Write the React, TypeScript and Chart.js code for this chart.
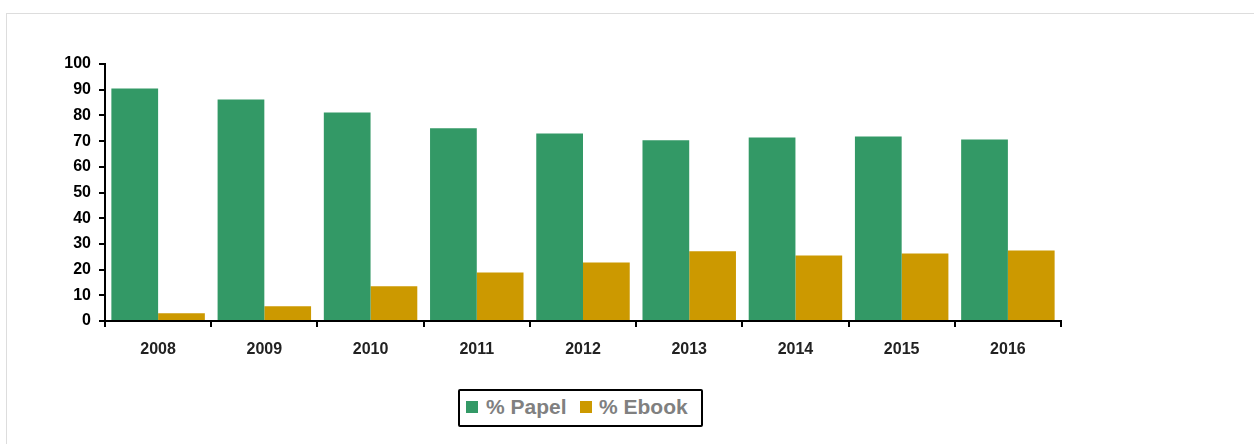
import React, { useEffect, useRef } from "react";
import { Chart, registerables } from "chart.js";

Chart.register(...registerables);

const categories = ["2008", "2009", "2010", "2011", "2012", "2013", "2014", "2015", "2016"];
const papelValues = [90.5, 86.2, 81.1, 75.0, 73.0, 70.3, 71.4, 71.8, 70.6];
const ebookValues = [3.0, 5.7, 13.5, 18.9, 22.8, 27.1, 25.5, 26.3, 27.4];
const seriesLabels = ["% Papel", "% Ebook"];
const seriesColors = ["#339966", "#CC9900"];
const yTicks = [0, 10, 20, 30, 40, 50, 60, 70, 80, 90, 100];

const FONT = "'Liberation Sans', Arial, Helvetica, sans-serif";

export default function App() {
  const canvasRef = useRef<HTMLCanvasElement | null>(null);

  useEffect(() => {
    const canvas = canvasRef.current;
    if (!canvas) return;
    const chart = new Chart(canvas, {
      type: "bar",
      data: {
        labels: categories,
        datasets: [
          {
            label: seriesLabels[0],
            data: papelValues,
            backgroundColor: seriesColors[0],
            borderWidth: 0,
            categoryPercentage: 0.88,
            barPercentage: 1.0,
          },
          {
            label: seriesLabels[1],
            data: ebookValues,
            backgroundColor: seriesColors[1],
            borderWidth: 0,
            categoryPercentage: 0.88,
            barPercentage: 1.0,
          },
        ],
      },
      options: {
        responsive: false,
        animation: false,
        devicePixelRatio: 1,
        layout: { padding: { left: 55, right: 193, top: 64, bottom: 83 } },
        plugins: {
          legend: { display: false },
          title: { display: false },
          tooltip: { enabled: false },
        },
        scales: {
          x: {
            offset: true,
            grid: {
              display: true,
              drawOnChartArea: false,
              drawTicks: true,
              tickLength: 6,
              color: "#000000",
              lineWidth: 2,
              offset: true,
            },
            border: { display: true, color: "#000000", width: 2 },
            ticks: {
              color: "#222222",
              padding: 13,
              font: { family: FONT, size: 16, weight: "bold" },
              maxRotation: 0,
            },
            afterFit: (scale: any) => {
              scale.height = 40;
            },
          },
          y: {
            min: 0,
            max: 100,
            afterBuildTicks: (scale: any) => {
              scale.ticks = yTicks.map((v) => ({ value: v }));
            },
            grid: {
              display: true,
              drawOnChartArea: false,
              drawTicks: true,
              tickLength: 6,
              color: "#000000",
              lineWidth: 2,
            },
            border: { display: true, color: "#000000", width: 2 },
            ticks: {
              color: "#000000",
              padding: 8,
              font: { family: FONT, size: 16, weight: "bold" },
            },
            afterFit: (scale: any) => {
              scale.width = 50;
            },
          },
        },
      },
    });
    return () => chart.destroy();
  }, []);

  return (
    <div>
      <div
        style={{
          position: "fixed",
          left: 6,
          top: 13,
          width: 1400,
          height: 600,
          border: "1px solid #dddddd",
          boxSizing: "border-box",
          background: "#ffffff",
        }}
      />
      <canvas
        ref={canvasRef}
        width={1254}
        height={444}
        style={{ position: "fixed", left: 0, top: 0, width: 1254, height: 444 }}
      />
      <div
        style={{
          position: "fixed",
          left: 458,
          top: 389,
          width: 245,
          height: 38,
          border: "2px solid #000000",
          borderRadius: 2,
          boxSizing: "border-box",
          background: "#ffffff",
          fontFamily: FONT,
          fontWeight: "bold",
          fontSize: 21,
          color: "#808080",
        }}
      >
        {seriesLabels.map((label, i) => (
          <React.Fragment key={label}>
            <div
              style={{
                position: "absolute",
                left: i === 0 ? 6 : 120,
                top: 10,
                width: 12,
                height: 12,
                background: seriesColors[i],
              }}
            />
            <div
              style={{
                position: "absolute",
                left: i === 0 ? 26 : 139,
                top: 3,
                lineHeight: "26px",
                whiteSpace: "nowrap",
              }}
            >
              {label}
            </div>
          </React.Fragment>
        ))}
      </div>
    </div>
  );
}
